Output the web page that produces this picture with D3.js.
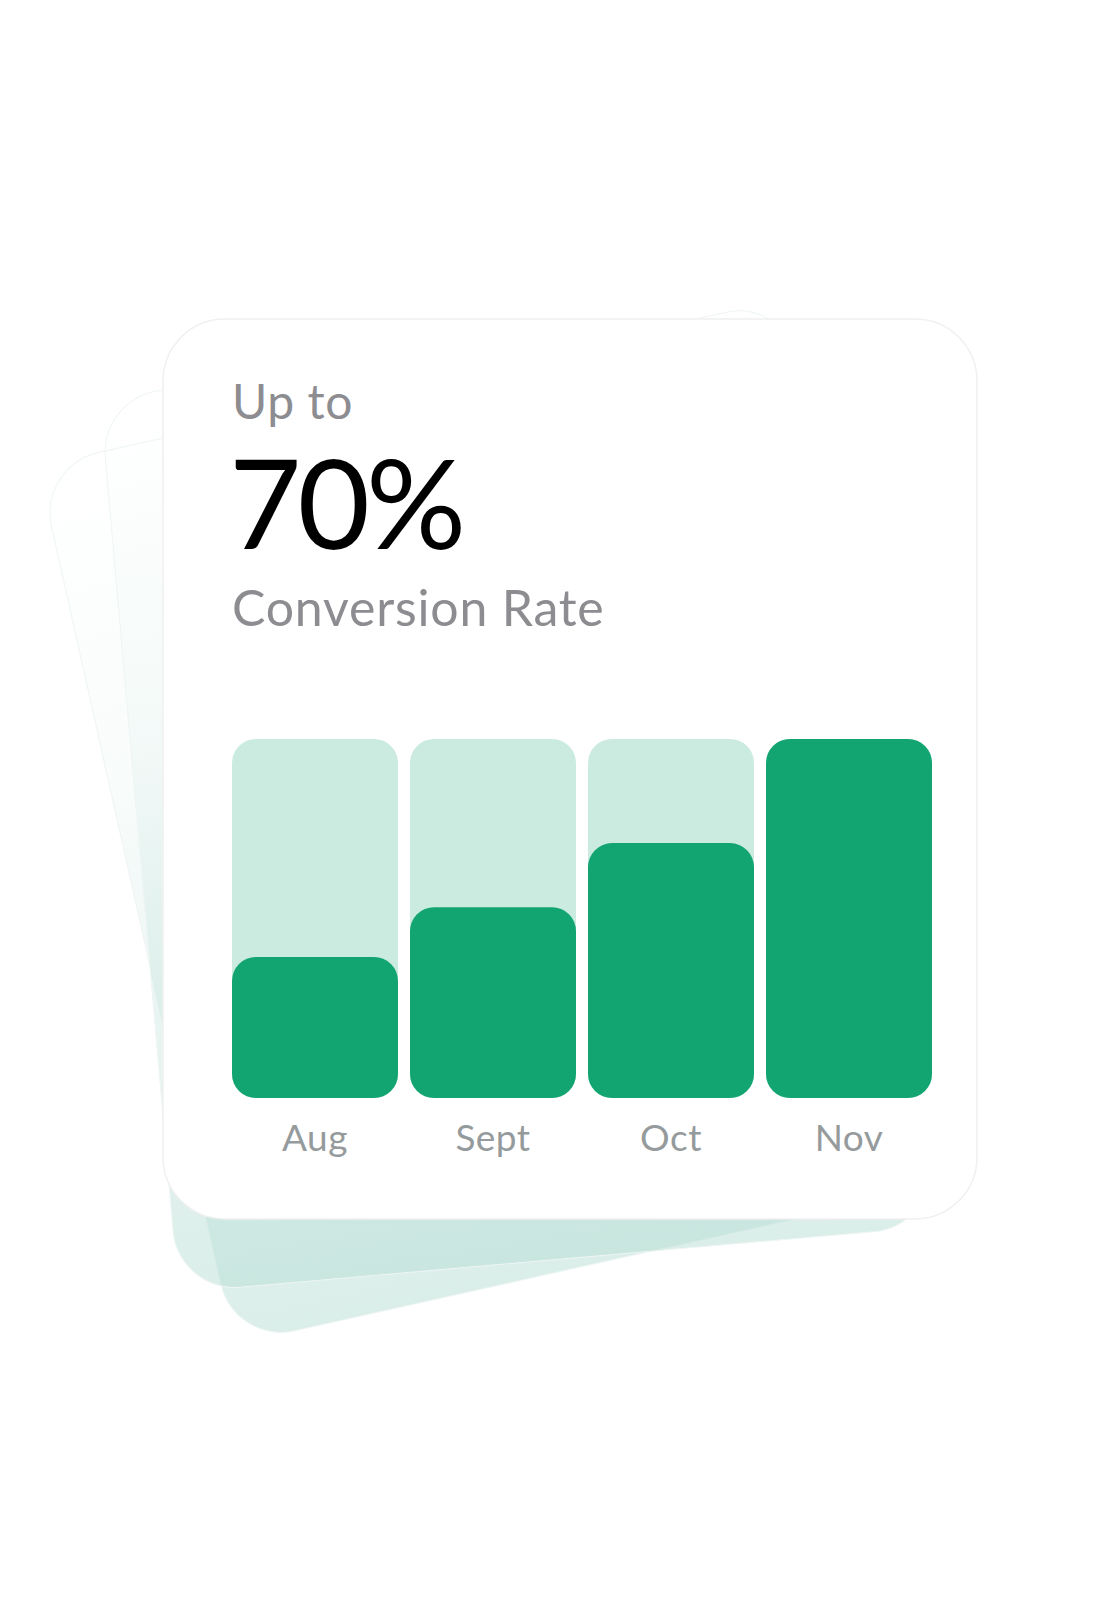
<!DOCTYPE html>
<html>
<head>
<meta charset="utf-8">
<script src="https://cdn.jsdelivr.net/npm/d3@7"></script>
<style>
  html, body { margin: 0; padding: 0; background: #fff; }
  svg { display: block; }
  text { font-family: Lato, 'Open Sans', sans-serif; }
</style>
</head>
<body>
<div id="chart"></div>
<script>
// values
const months = ['Aug', 'Sept', 'Oct', 'Nov'];
const rates = [27.5, 37.2, 49.7, 70];
const maxRate = 70;
const preTitle = 'Up to';
const headline = '70%';
const subTitle = 'Conversion Rate';

const W = 1120, H = 1600;
const card = { x: 163, y: 319, w: 814, h: 900, r: 62 };
const plot = { left: 232, right: 932, top: 739, bottom: 1098 };

const svg = d3.select('#chart').append('svg')
  .attr('width', W)
  .attr('height', H);

const defs = svg.append('defs');
const grad = defs.append('linearGradient')
  .attr('id', 'fade')
  .attr('x1', 0).attr('y1', 0).attr('x2', 0).attr('y2', 1);
grad.append('stop').attr('offset', '0%').attr('stop-color', '#b6ddd4').attr('stop-opacity', 0);
grad.append('stop').attr('offset', '35%').attr('stop-color', '#b6ddd4').attr('stop-opacity', 0.08);
grad.append('stop').attr('offset', '100%').attr('stop-color', '#b6ddd4').attr('stop-opacity', 0.5);

// tilted cards behind
const backs = [
  { x: 38, y: 466, w: 766, h: 900, angle: -12.6 },
  { x: 100, y: 396, w: 760, h: 900, angle: -5 }
];
svg.append('g').selectAll('rect')
  .data(backs)
  .enter()
  .append('rect')
    .attr('transform', d => `translate(${d.x}, ${d.y}) rotate(${d.angle})`)
    .attr('width', d => d.w)
    .attr('height', d => d.h)
    .attr('rx', card.r)
    .attr('fill', 'url(#fade)')
    .attr('stroke', '#eef5f3')
    .attr('stroke-width', 1);

// main card
svg.append('rect')
  .attr('x', card.x)
  .attr('y', card.y)
  .attr('width', card.w)
  .attr('height', card.h)
  .attr('rx', card.r)
  .attr('fill', '#fff')
  .attr('stroke', '#f0f0f0')
  .attr('stroke-width', 1.5);

svg.append('text')
  .attr('x', 232)
  .attr('y', 419)
  .attr('font-size', 48)
  .attr('letter-spacing', 0.6)
  .attr('fill', '#8c8c91')
  .text(preTitle);

svg.append('text')
  .attr('x', 229)
  .attr('y', 549)
  .attr('font-size', 125)
  .attr('letter-spacing', -4)
  .attr('fill', '#000')
  .text(headline);

svg.append('text')
  .attr('x', 232)
  .attr('y', 626)
  .attr('font-size', 50)
  .attr('letter-spacing', 0.8)
  .attr('fill', '#8c8c91')
  .text(subTitle);

// bars
const x = d3.scaleBand()
  .domain(months)
  .range([plot.left, plot.right])
  .paddingInner(12 / 178)
  .paddingOuter(0);

const y = d3.scaleLinear()
  .domain([0, maxRate])
  .range([plot.bottom, plot.top]);

const data = months.map((m, i) => ({ month: m, rate: rates[i] }));

const chart = svg.append('g');
chart.selectAll('.bar-bg')
  .data(data)
  .enter()
  .append('rect')
    .attr('class', 'bar-bg')
    .attr('x', d => x(d.month))
    .attr('y', y(maxRate))
    .attr('width', x.bandwidth())
    .attr('height', y(0) - y(maxRate))
    .attr('rx', 24)
    .attr('fill', '#cbebe0');

chart.selectAll('.bar')
  .data(data)
  .enter()
  .append('rect')
    .attr('class', 'bar')
    .attr('x', d => x(d.month))
    .attr('y', d => y(d.rate))
    .attr('width', x.bandwidth())
    .attr('height', d => y(0) - y(d.rate))
    .attr('rx', 24)
    .attr('fill', '#12a571');

const axis = svg.append('g')
  .attr('transform', `translate(0, ${plot.bottom})`)
  .call(d3.axisBottom(x).tickSize(0).tickPadding(27));
axis.select('.domain').remove();
axis.selectAll('text')
  .attr('font-family', 'Lato, sans-serif')
  .attr('font-size', 37)
  .attr('letter-spacing', 0.5)
  .attr('fill', '#959b9c');
</script>
</body>
</html>
